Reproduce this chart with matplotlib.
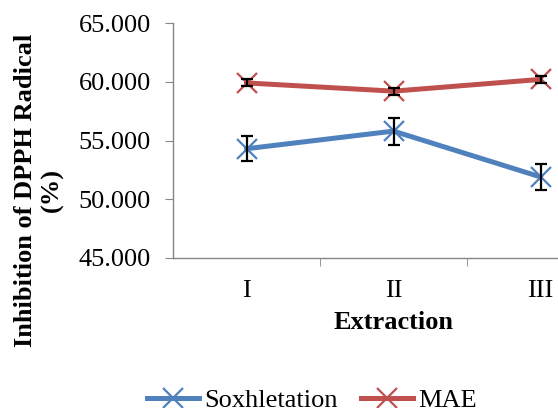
import matplotlib.pyplot as plt
import numpy as np

# data
categories = ["I", "II", "III"]
soxhlet = [54.3, 55.8, 51.9]
soxhlet_err = [1.05, 1.15, 1.1]
mae = [59.9, 59.2, 60.2]
mae_err = [0.3, 0.3, 0.3]
yticks = [45, 50, 55, 60, 65]

plt.rcParams['font.family'] = ['Liberation Serif', 'DejaVu Serif']

fig = plt.figure(figsize=(5.58, 4.08), dpi=100)
ax = fig.add_axes([173/558, 1 - 258/408, 441/558, 235/408])

x = np.arange(len(categories))
blue = '#4F81BD'
red = '#C0504D'

ax.plot(x, soxhlet, color=blue, lw=3.6, marker='x', ms=14, mew=1.6,
        label='Soxhletation', zorder=2)
ax.plot(x, mae, color=red, lw=3.6, marker='x', ms=14, mew=1.6,
        label='MAE', zorder=2)
ax.errorbar(x, soxhlet, yerr=soxhlet_err, fmt='none', ecolor='black',
            elinewidth=1.6, capsize=4, capthick=1.6, zorder=3)
ax.errorbar(x, mae, yerr=mae_err, fmt='none', ecolor='black',
            elinewidth=1.6, capsize=4, capthick=1.6, zorder=3)

ax.set_xlim(-0.5, len(categories) - 0.5)
ax.set_ylim(45, 65)
ax.set_yticks(yticks)
ax.set_yticklabels(['%.3f' % v for v in yticks])
ax.set_xticks(x)
ax.set_xticklabels(categories)
ax.set_xticks(x[:-1] + 0.5, minor=True)

for s in ['top', 'right']:
    ax.spines[s].set_visible(False)
for s in ['left', 'bottom']:
    ax.spines[s].set_color('#868686')
    ax.spines[s].set_linewidth(1.0)

ax.tick_params(axis='y', labelsize=19, length=6, color='#868686', pad=10)
ax.tick_params(axis='x', which='major', labelsize=19, length=0, pad=16)
ax.tick_params(axis='x', which='minor', length=6, color='#868686')

ax.set_xlabel('Extraction', fontsize=19, fontweight='bold', labelpad=6)
fig.text(39/558, 1 - 190/408, 'Inhibition of DPPH Radical\n(%)',
         rotation=90, ha='center', va='center', multialignment='center',
         fontsize=19, fontweight='bold')

fig.legend(loc='center', bbox_to_anchor=(312/558, 1 - 400/408), ncol=2,
           frameon=False, fontsize=19, handlelength=2.0, handletextpad=0.2,
           columnspacing=0.85, borderaxespad=0)

fig.savefig('out.png', dpi=100)
